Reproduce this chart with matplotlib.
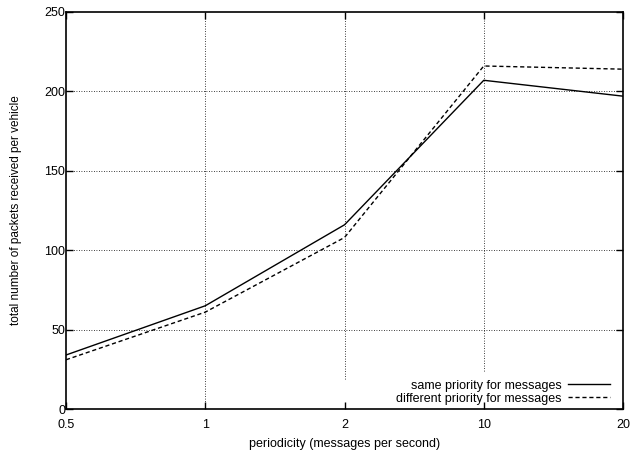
import matplotlib
matplotlib.use("Agg")
import matplotlib.pyplot as plt
import numpy as np

plt.rcParams['font.family'] = ['Liberation Sans', 'DejaVu Sans']

periodicity = ["0.5", "1", "2", "10", "20"]
same_priority = [34, 65, 116, 207, 197]
diff_priority = [31, 61, 108, 216, 214]
y_ticks = [0, 50, 100, 150, 200, 250]

# bottom of each vertical grid line (the key clips the ones near it)
vgrid_bottom = [0, 19, 24]

x = np.arange(len(periodicity))

fig = plt.figure(figsize=(6.32, 4.51), dpi=100)
ax = fig.add_axes([0.1044, 0.0931, 0.8814, 0.8803])

dots = dict(color="black", linestyle=(0, (1, 2)), linewidth=0.6, zorder=1)
for yv in y_ticks[1:-1]:
    ax.axhline(yv, **dots)
for xi, yb in zip(x[1:-1], vgrid_bottom):
    ax.vlines(xi, yb, 250, **dots)

ax.plot(x, same_priority, color="black", linewidth=1.0,
        label="same priority for messages", zorder=3)
ax.plot(x, diff_priority, color="black", linewidth=1.0, linestyle=(0, (3, 2)),
        label="different priority for messages", zorder=3)

ax.set_xlim(x[0], x[-1])
ax.set_ylim(0, 250)
ax.set_xticks(x)
ax.set_xticklabels(periodicity)
ax.set_yticks(y_ticks)

ax.tick_params(direction="in", length=5, width=1.0, labelsize=9,
               top=True, right=True)
ax.tick_params(axis="x", pad=7)
ax.tick_params(axis="y", pad=0.5)
for sp in ax.spines.values():
    sp.set_linewidth(1.2)

ax.set_xlabel("periodicity (messages per second)", fontsize=9, labelpad=5)
ax.set_ylabel("total number of packets received per vehicle", fontsize=8.5,
              labelpad=16)

ax.legend(loc="lower right", frameon=False, markerfirst=False, fontsize=9,
          handlelength=3.4, handletextpad=0.5, labelspacing=0.1,
          borderaxespad=0.0, bbox_to_anchor=(0.986, -0.002))

fig.savefig("out.png", dpi=100)
